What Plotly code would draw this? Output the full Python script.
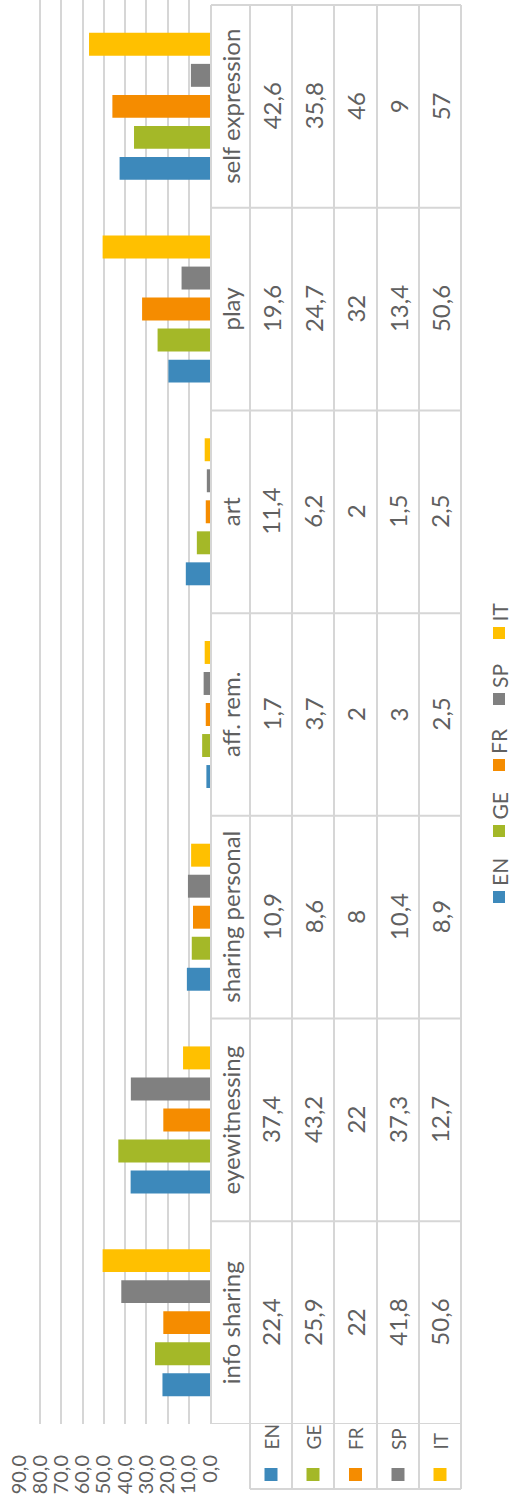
import plotly.graph_objects as go

# ---------------- data ----------------
categories = ["info sharing", "eyewitnessing", "sharing personal", "aff. rem.", "art", "play", "self expression"]
series_names = ["EN", "GE", "FR", "SP", "IT"]
EN = [22.4, 37.4, 10.9, 1.7, 11.4, 19.6, 42.6]
GE = [25.9, 43.2, 8.6, 3.7, 6.2, 24.7, 35.8]
FR = [22, 22, 8, 2, 2, 32, 46]
SP = [41.8, 37.3, 10.4, 3, 1.5, 13.4, 9]
IT = [50.6, 12.7, 8.9, 2.5, 2.5, 50.6, 57]
series_values = [EN, GE, FR, SP, IT]
colors = ["#3d89bb", "#a4b828", "#f58c00", "#808080", "#ffc000"]
tick_values = [0, 10, 20, 30, 40, 50, 60, 70, 80, 90]

# ---------------- layout helpers (pixel -> paper) ----------------
W, H = 511, 1497
def px(x):
    return x / W
def py(y):
    return 1 - y / H

FONT = "Lato, Carlito, Calibri, sans-serif"
TXT = "#606060"
LINE = "#d6d6d6"

plot_left, plot_right = 19, 210
plot_top, plot_bottom = 0, 1424
table_top = 5
cell_h = (plot_bottom - table_top) / len(categories)
y_top_extra = (table_top - plot_top) / cell_h

fig = go.Figure()
for name, vals, col in zip(series_names, series_values, colors):
    fig.add_trace(go.Bar(
        x=vals, y=categories, name=name, orientation="h",
        marker=dict(color=col, line=dict(width=0)),
        hoverinfo="skip", showlegend=False,
    ))

shapes = []
annotations = []

# table column boundaries (pixel x)
col_edges = [211, 250, 292, 334, 377, 419, 461]
col_centers = [(col_edges[i] + col_edges[i + 1]) / 2 for i in range(len(col_edges) - 1)]

# horizontal table lines at category boundaries
for k in range(len(categories) + 1):
    shapes.append(dict(type="line", xref="paper", yref="y",
                       x0=px(col_edges[0]), x1=px(col_edges[-1]),
                       y0=k - 0.5, y1=k - 0.5,
                       line=dict(color=LINE, width=2), layer="above"))
# vertical lines
for i, xe in enumerate(col_edges):
    yb = plot_bottom if i == 0 else 1489
    shapes.append(dict(type="line", xref="paper", yref="paper",
                       x0=px(xe), x1=px(xe), y0=py(table_top), y1=py(yb),
                       line=dict(color=LINE, width=2), layer="above"))
# bottom line of row header block
shapes.append(dict(type="line", xref="paper", yref="paper",
                   x0=px(col_edges[1]), x1=px(col_edges[-1]), y0=py(1489), y1=py(1489),
                   line=dict(color=LINE, width=2), layer="above"))

def ann(text, x, y, size, xref="paper", yref="y", yanchor="middle"):
    return dict(text=text, xref=xref, yref=yref, x=x, y=y,
                xanchor="center", yanchor=yanchor, showarrow=False, textangle=-90,
                font=dict(family=FONT, size=size, color=TXT))

# category labels + values in the table
for ci, cat in enumerate(categories):
    annotations.append(ann(cat, px(col_centers[0]), ci, 24))
    for si, vals in enumerate(series_values):
        s = f"{vals[ci]:g}".replace(".", ",")
        annotations.append(ann(s, px(col_centers[si + 1]), ci, 24))

# row headers (legend keys in the table)
for si, name in enumerate(series_names):
    cx = col_centers[si + 1]
    shapes.append(dict(type="rect", xref="paper", yref="paper",
                       x0=px(cx - 6.5), x1=px(cx + 6.5), y0=py(1481), y1=py(1468),
                       fillcolor=colors[si], line=dict(width=0)))
    annotations.append(ann(name, px(cx), py(1452), 19, yref="paper", yanchor="bottom"))

# legend (manual, rotated)
leg_x = 499
leg_sq_centers = [897, 831, 765, 699, 633]
for si, name in enumerate(series_names):
    cy = leg_sq_centers[si]
    shapes.append(dict(type="rect", xref="paper", yref="paper",
                       x0=px(leg_x - 6), x1=px(leg_x + 6), y0=py(cy + 6), y1=py(cy - 6),
                       fillcolor=colors[si], line=dict(width=0)))
    annotations.append(ann(name, px(leg_x), py(cy - 9), 21, yref="paper", yanchor="bottom"))

fig.update_layout(
    width=W, height=H,
    margin=dict(l=0, r=0, t=0, b=0, autoexpand=False),
    paper_bgcolor="white", plot_bgcolor="white",
    barmode="group", bargap=0.235, bargroupgap=0.26,
    separators=",.",
    showlegend=False,
    shapes=shapes, annotations=annotations,
    xaxis=dict(domain=[px(plot_left), px(plot_right)], range=[90, 0],
               tickvals=tick_values, tickformat=".1f", tickangle=-90,
               showgrid=True, gridcolor=LINE, gridwidth=2,
               zeroline=False, showline=False, ticks="",
               automargin=False, ticklabelstandoff=26,
               tickfont=dict(family=FONT, size=20, color=TXT)),
    yaxis=dict(domain=[py(plot_bottom), py(plot_top)],
               range=[-0.5, len(categories) - 0.5 + y_top_extra],
               categoryorder="array", categoryarray=categories,
               automargin=False,
               showticklabels=False, showgrid=False, zeroline=False, showline=False, ticks=""),
)

fig.write_html("out.html")
